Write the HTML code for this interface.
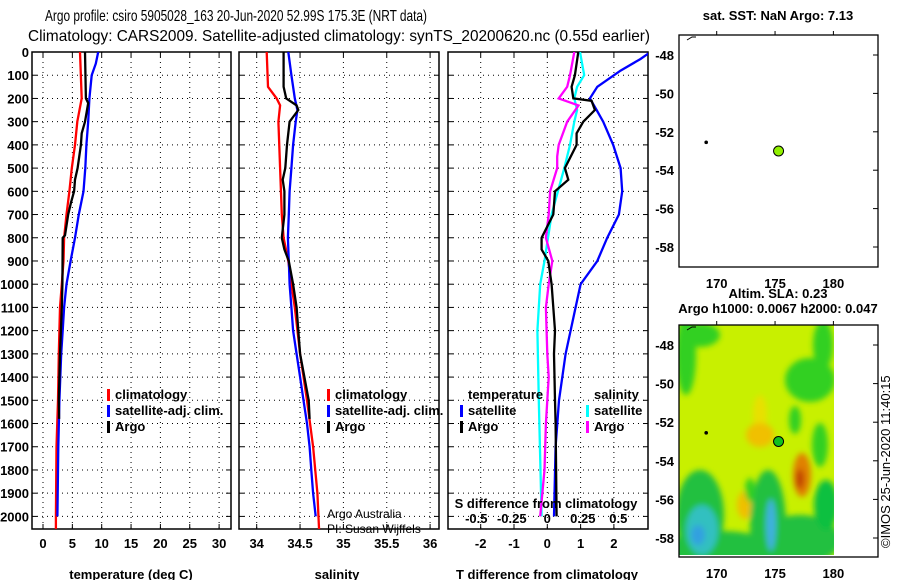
<!DOCTYPE html>
<html><head><meta charset="utf-8"><style>
body{margin:0;background:#fff}
svg{display:block;font-family:"Liberation Sans",sans-serif}
.b{font-weight:bold;font-size:13px}
</style></head><body>
<svg id="c" width="900" height="580" xmlns="http://www.w3.org/2000/svg">
<text x="45" y="21" font-size="16" textLength="382" lengthAdjust="spacingAndGlyphs">Argo profile: csiro 5905028_163 20-Jun-2020 52.99S 175.3E (NRT data)</text>
<text x="28" y="41" font-size="16" textLength="622" lengthAdjust="spacingAndGlyphs">Climatology: CARS2009. Satellite-adjusted climatology: synTS_20200620.nc (0.55d earlier)</text>
<g id="g"></g>
</svg>
<script>
// depth-profile data
const tClimD=[0,200,300,400,500,600,700,800,900,1000,1100,1300,1500,1700,2000,2060];
const tClim=[6.3,6.6,5.85,5.45,4.9,4.5,4.0,3.6,3.5,3.2,2.9,2.7,2.55,2.3,2.2,2.2];
const tSatD=[0,50,100,200,300,400,500,600,700,800,900,1000,1100,1200,1300,1500,1700,2000];
const tSat=[9.4,9.0,8.3,7.9,7.7,7.4,7.2,6.9,6.1,5.45,4.7,4.0,3.6,3.35,3.1,2.8,2.6,2.45];
const tArgoD=[0,200,220,300,350,400,500,550,600,650,700,790,800,1000,1100,1300,1500,1580];
const tArgo=[7.15,7.3,7.7,7.15,6.6,6.45,5.9,5.45,5.3,4.75,4.3,3.75,3.35,3.3,3.2,2.9,2.7,2.75];
const sClimD=[0,150,200,230,300,500,700,800,900,1000,1100,1300,1500,1700,1900,2060];
const sClim=[34.115,34.13,34.23,34.27,34.25,34.27,34.29,34.31,34.365,34.4,34.44,34.5,34.58,34.65,34.7,34.72];
const sSatD=[0,100,200,250,300,400,500,600,700,800,900,1000,1100,1200,1300,1400,1500,1600,1700,1800,1900,2000];
const sSat=[34.365,34.4,34.44,34.47,34.45,34.42,34.4,34.38,34.37,34.36,34.37,34.38,34.4,34.42,34.46,34.5,34.54,34.58,34.61,34.63,34.65,34.68];
const sArgoD=[0,150,200,230,250,300,400,500,550,600,700,800,850,900,1000,1100,1200,1300,1400,1500,1580];
const sArgo=[34.31,34.31,34.34,34.46,34.48,34.38,34.35,34.33,34.30,34.32,34.32,34.29,34.32,34.37,34.42,34.46,34.48,34.5,34.55,34.6,34.61];
const dtSatD=[0,30,80,150,200,250,300,400,500,600,700,800,900,1000,1100,1300,1500,1700,2000];
const dtSat=[3.1,2.8,2.2,1.5,1.28,1.48,1.68,1.98,2.2,2.25,2.15,1.8,1.5,1.0,0.85,0.55,0.35,0.25,0.2];
const dtArgoD=[0,100,150,200,210,250,300,350,400,500,550,600,700,800,850,900,1000,1200,1300,1500,1600,2000];
const dtArgo=[0.93,0.83,0.73,0.78,1.33,1.43,1.08,0.88,0.88,0.53,0.63,0.23,0.18,-0.17,-0.17,0.03,0.13,0.23,0.2,0.23,0.25,0.28];
const dsSatD=[0,100,150,200,250,300,400,500,600,700,800,900,1000,1200,1500,2000];
const dsSat=[0.23,0.26,0.21,0.19,0.21,0.19,0.16,0.12,0.075,0.03,0.005,-0.02,-0.05,-0.07,-0.06,-0.04];
const dsArgoD=[0,100,150,200,230,300,400,450,500,600,700,800,900,1000,1100,1300,1400,1600,1800,2000];
const dsArgo=[0.19,0.16,0.14,0.08,0.22,0.14,0.08,0.07,0.07,0.02,0.01,-0.01,0.035,0.01,-0.01,0.0,0.01,-0.01,-0.02,-0.05];
const depthTicks=[0,100,200,300,400,500,600,700,800,900,1000,1100,1200,1300,1400,1500,1600,1700,1800,1900,2000];
const tTicks=[0,5,10,15,20,25,30];
const sTicks=[34,34.5,35,35.5,36];
const dtTicks=[-2,-1,0,1,2];
const dsTicks=[-0.5,-0.25,0,0.25,0.5];
const latTicks=[-48,-50,-52,-54,-56,-58];
const lonTicks=[170,175,180];

const NS="http://www.w3.org/2000/svg";
const G=document.getElementById('g');
function el(tag,at,parent){const e=document.createElementNS(NS,tag);for(const k in at)e.setAttribute(k,at[k]);(parent||G).appendChild(e);return e;}
function txt(x,y,s,cls,anchor,parent){const t=el('text',{x:x,y:y,'text-anchor':anchor||'middle'},parent);if(cls)t.setAttribute('class',cls);t.textContent=s;return t;}
const Y=d=>52+d*0.2322, TOP=52, BOT=529;
const xT=v=>43+v*5.87, xS=v=>256.7+(v-34)*86.7, xDT=v=>547.3+v*33.3, xDS=v=>547.3+v*142;

function panel(name,x0,x1,ticks,xf,fmt){
  const g=el('g',{});
  
  
  const cp=el('clipPath',{id:'cp'+name},g);el('rect',{x:x0,y:TOP,width:x1-x0,height:BOT-TOP},cp);
  depthTicks.forEach(d=>{el('line',{x1:x0,x2:x1,y1:Y(d),y2:Y(d),stroke:'#000','stroke-dasharray':'1,4'},g);
    el('line',{x1:x0,x2:x0+5,y1:Y(d),y2:Y(d),stroke:'#000'},g);el('line',{x1:x1-5,x2:x1,y1:Y(d),y2:Y(d),stroke:'#000'},g);});
  if(ticks)ticks.forEach(v=>{const x=xf(v);el('line',{x1:x,x2:x,y1:TOP,y2:BOT,stroke:'#000','stroke-dasharray':'1,4'},g);
    el('line',{x1:x,x2:x,y1:BOT-5,y2:BOT,stroke:'#000'},g);el('line',{x1:x,x2:x,y1:TOP,y2:TOP+5,stroke:'#000'},g);
    const t=txt(x,BOT+19,fmt?fmt(v):v,'b','middle',g);});
  el('rect',{x:x0,y:TOP,width:x1-x0,height:BOT-TOP,fill:'none',stroke:'#000','stroke-width':1.5},g);
  return g;
}
function series(g,name,D,V,xf,color,clip){
  const p=el('polyline',{points:D.map((d,i)=>xf(V[i]).toFixed(1)+','+Y(d).toFixed(1)).join(' '),fill:'none',stroke:color,'stroke-width':2.3,'clip-path':'url(#cp'+clip+')'},g);
  
  
}
function legend(g,x,y,items){items.forEach((it,i)=>{el('rect',{x:x,y:y+i*16-10,width:3,height:12,fill:it[1]},g);const t=txt(x+8,y+i*16,it[0],'b','start',g);
  });}

// panel 1
const p1=panel('temperature-panel',32,231,tTicks,xT);
depthTicks.forEach(d=>{const t=txt(29,Y(d)+5,d,'b','end',p1);});
series(p1,'temp-climatology-line',tClimD,tClim,xT,'#f00','temperature-panel');
series(p1,'temp-satellite-line',tSatD,tSat,xT,'#00f','temperature-panel');
series(p1,'temp-argo-line',tArgoD,tArgo,xT,'#000','temperature-panel');
legend(p1,107,399,[['climatology','#f00'],['satellite-adj. clim.','#00f'],['Argo','#000']]);
let t=txt(131,579,'temperature (deg C)','b','middle',p1);

// panel 2
const p2=panel('salinity-panel',239,439,sTicks,xS);
series(p2,'sal-climatology-line',sClimD,sClim,xS,'#f00','salinity-panel');
series(p2,'sal-satellite-line',sSatD,sSat,xS,'#00f','salinity-panel');
series(p2,'sal-argo-line',sArgoD,sArgo,xS,'#000','salinity-panel');
legend(p2,327,399,[['climatology','#f00'],['satellite-adj. clim.','#00f'],['Argo','#000']]);
t=txt(337,579,'salinity','b','middle',p2);
t=txt(327,518,'Argo Australia',null,'start',p2);t.setAttribute('font-size','12');
t=txt(327,533,'PI: Susan Wijffels',null,'start',p2);t.setAttribute('font-size','12');

// panel 3
const p3=panel('difference-panel',448,648,dtTicks,xDT);
series(p3,'dt-satellite-line',dtSatD,dtSat,xDT,'#00f','difference-panel');
series(p3,'ds-satellite-line',dsSatD,dsSat,xDS,'#0ff','difference-panel');
series(p3,'ds-argo-line',dsArgoD,dsArgo,xDS,'#f0f','difference-panel');
series(p3,'dt-argo-line',dtArgoD,dtArgo,xDT,'#000','difference-panel');
t=txt(468,399,'temperature','b','start',p3);
t=txt(594,399,'salinity','b','start',p3);
legend(p3,460,415,[['satellite','#00f'],['Argo','#000']]);
legend(p3,586,415,[['satellite','#0ff'],['Argo','#f0f']]);
t=txt(546,508,'S difference from climatology','b','middle',p3);
dsTicks.forEach(v=>{const t=txt(xDS(v),523,v,'b','middle',p3);});
t=txt(547,579,'T difference from climatology','b','middle',p3);

// maps
const lonX=v=>716.7+(v-170)*11.67;
function map(name,y0,y1,latY,heat){
  const g=el('g',{});
  
  
  if(heat){
    const cp=el('clipPath',{id:'hm'},g);el('rect',{x:679,y:y0,width:155,height:y1-y0-2},cp);
    const f=el('filter',{id:'bl'},g);el('feGaussianBlur',{stdDeviation:3},f);
    const h=el('g',{'clip-path':'url(#hm)'},g);
    el('rect',{x:679,y:y0,width:155,height:y1-y0,fill:'#c8f000'},h);
    const hb=el('g',{filter:'url(#bl)'},h);
    const blobs=[[686,y0+30,10,40,'#30d020'],[700,y0+10,20,12,'#30d020'],[810,y0+55,25,22,'#30d020'],[823,y0+20,10,25,'#30d020'],[795,y0+95,6,14,'#30d020'],[820,y0+120,8,22,'#30d020'],[760,y0+90,7,20,'#e8e000'],[760,y0+110,14,12,'#f0c000'],[802,y0+150,9,22,'#e08000'],[800,y0+154,4,10,'#c04000'],[745,y0+180,8,14,'#f0c000'],[720,y0+228,60,22,'#20c040'],[800,y0+215,40,25,'#20c040'],[700,y0+190,24,45,'#20c040'],[768,y0+200,18,55,'#20c040'],[771,y0+200,5,26,'#40b0e0'],[702,y0+205,16,25,'#30c0c0'],[698,y0+210,7,10,'#30a0e0'],[826,y0+180,12,25,'#10c040'],[750,y0+165,5,12,'#30d020']];
    blobs.forEach(b=>{const e=el('ellipse',{cx:b[0],cy:b[1],rx:b[2],ry:b[3],fill:b[4]},hb);});
  }
  el('rect',{x:679,y:y0,width:199,height:y1-y0,fill:'none',stroke:'#000','stroke-width':1.3},g);
  latTicks.forEach(v=>{const y=latY(v);el('line',{x1:873,x2:878,y1:y,y2:y,stroke:'#000'},g);
    const t=txt(674,y+5,v,'b','end',g);});
  lonTicks.forEach(v=>{const x=lonX(v);el('line',{x1:x,x2:x,y1:y0-4,y2:y0,stroke:'#000'},g);
    const t=txt(x,y1+21,v,'b','middle',g);});
  el('circle',{cx:lonX(169.1),cy:latY(-52.55),r:1.8,fill:'#000'},g);
  el('path',{d:'M687 '+(y0+5)+' l5 -3 l4 0',stroke:'#000',fill:'none'},g);
  const d=el('circle',{cx:lonX(175.3),cy:latY(-53),r:5,fill:heat?'#10c020':'#90f000',stroke:'#000'},g);
  
}
map('sst-map',35,267,v=>55+(-48-v)*19.2,false);
map('sla-map',325,557,v=>345+(-48-v)*19.3,true);
t=txt(778,20,'sat. SST: NaN Argo: 7.13','b','middle');
t=txt(778,298,'Altim. SLA: 0.23','b','middle');
t=txt(778,313,'Argo h1000: 0.0067 h2000: 0.047','b','middle');
t=txt(0,0,'©IMOS 25-Jun-2020 11:40:15',null,'start');t.setAttribute('font-size','13');t.setAttribute('transform','translate(890,548) rotate(-90)');

</script>
</body></html>
